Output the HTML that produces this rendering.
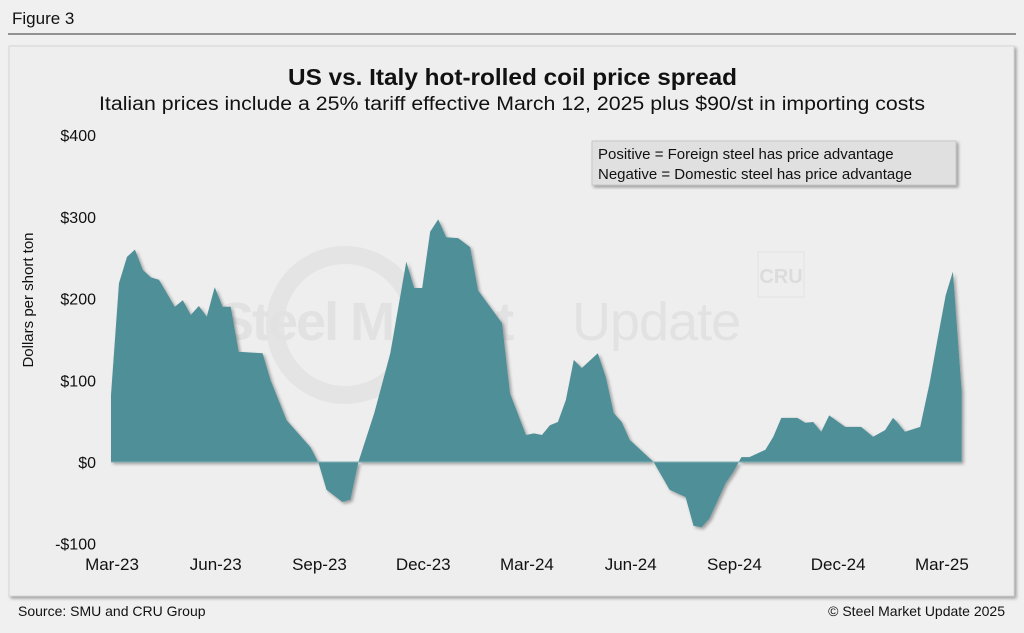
<!DOCTYPE html>
<html><head><meta charset="utf-8"><style>
body{margin:0;background:#f0f0f0;font-family:"Liberation Sans",sans-serif;}
#wrap{position:relative;width:1024px;height:633px;overflow:hidden;background:#f0f0f0;}
</style></head><body>
<div id="wrap">
<svg width="1024" height="633">
<defs><filter id="sh" x="-5%" y="-5%" width="110%" height="115%"><feDropShadow dx="2" dy="2" stdDeviation="1.5" flood-color="#000" flood-opacity="0.35"/></filter></defs>
<text x="12" y="24" font-size="17" fill="#111">Figure 3</text>
<line x1="8" y1="34" x2="1016" y2="34" stroke="#333" stroke-width="1"/>
<rect x="9" y="46" width="1005" height="550" fill="#eeeeee" stroke="#d6d6d6" filter="url(#sh)"/>
<text x="288" y="85" font-size="23" font-weight="bold" fill="#111" textLength="449" lengthAdjust="spacingAndGlyphs">US vs. Italy hot-rolled coil price spread</text>
<text x="99" y="110" font-size="19" fill="#111" textLength="826" lengthAdjust="spacingAndGlyphs">Italian prices include a 25% tariff effective March 12, 2025 plus $90/st in importing costs</text>
<g>
<circle cx="345" cy="325" r="70" fill="none" stroke="#e4e4e4" stroke-width="18"/>
<text x="218" y="340" font-size="54" font-weight="bold" fill="#e2e2e2" letter-spacing="-2">Steel Market</text>
<text x="572" y="340" font-size="54" fill="#e2e2e2" letter-spacing="-1">Update</text>
<rect x="758" y="252" width="46" height="45" fill="none" stroke="#e2e2e2"/>
<text x="781" y="283" font-size="20" font-weight="bold" fill="#dcdcdc" text-anchor="middle">CRU</text>
</g>
<text transform="translate(33,300) rotate(-90)" font-size="15" text-anchor="middle" fill="#111">Dollars per short ton</text>
<g id="yt"></g><g id="xt"></g><g id="plot"></g>
<g>
<rect x="592" y="141" width="364" height="44" fill="#e0e0e0" stroke="#c8c8c8" filter="url(#sh)"/>
<text x="598" y="159" font-size="15" fill="#111">Positive = Foreign steel has price advantage</text>
<text x="598" y="179" font-size="15" fill="#111">Negative = Domestic steel has price advantage</text>
</g>
<text x="18" y="616" font-size="14" fill="#111">Source: SMU and CRU Group</text>
<text x="1005" y="616" font-size="14" fill="#111" text-anchor="end">© Steel Market Update 2025</text>
</svg></div>
<script>
const weeks=[0,1,2,3,4,5,6,8,9,10,11,12,13,14,15,16,19,20,22,25,26,27,29,30,31,33,35,37,38,39,40,41,42,43.5,45,46,49,50,52,53,54,55,56,57,58,59,61,62,63,64,65,66,68,70,72,73,74,75,77,78,79,80,82,83,84,86,87,88,89,90,92,94,95.5,97,98,98.5,99.5,101.4,102.6,103.5,104.6,105.5,106.6];
const values=[82,219,251,260,235,226,223,190,198,180,191,178,214,190,190,135,133,100,51,18,-1,-34,-49,-46,0,60,133,245,213,213,282,297,275,274,263,210,170,84,33,35,33,45,49,76,125,115,133,104,60,49,27,18,0,-34,-43,-78,-80,-69,-26,-12,6,6,15,31,54,54,48,49,37,57,43,43,31,39,54,49,37,43,97,146,204,233,86,82];
const yTicks=[400,300,200,100,0,-100];
const yLabels=["$400","$300","$200","$100","$0","-$100"];
const xTickWeeks=[0,13,26,39,52,65,78,91,104];
const xLabels=["Mar-23","Jun-23","Sep-23","Dec-23","Mar-24","Jun-24","Sep-24","Dec-24","Mar-25"];
const X=w=>111+w*7.98, Y=v=>462-v*0.817;
const NS="http://www.w3.org/2000/svg";
const yt=document.getElementById('yt'),xt=document.getElementById('xt'),plot=document.getElementById('plot');
yTicks.forEach((v,i)=>{const t=document.createElementNS(NS,'text');


t.setAttribute('x',96);t.setAttribute('y',Y(v)+6);t.setAttribute('text-anchor','end');t.setAttribute('font-size','16');t.setAttribute('fill','#111');t.textContent=yLabels[i];yt.appendChild(t);});
xTickWeeks.forEach((w,i)=>{const t=document.createElementNS(NS,'text');


t.setAttribute('x',X(w)+1);t.setAttribute('y',570);t.setAttribute('text-anchor','middle');t.setAttribute('font-size','17');t.setAttribute('fill','#111');t.textContent=xLabels[i];xt.appendChild(t);});
let d='M'+X(weeks[0])+','+Y(0);
weeks.forEach((w,i)=>{d+=' L'+X(w).toFixed(1)+','+Y(values[i]).toFixed(1);});
d+=' L'+X(weeks[weeks.length-1])+','+Y(0)+' Z';
const p=document.createElementNS(NS,'path');


p.setAttribute('d',d);p.setAttribute('fill','#508f98');p.setAttribute('filter','url(#sh)');plot.appendChild(p);
const z=document.createElementNS(NS,'line');


z.setAttribute('x1',X(0));z.setAttribute('x2',X(weeks[weeks.length-1]));z.setAttribute('y1',Y(0));z.setAttribute('y2',Y(0));z.setAttribute('stroke','#7fb0b6');z.setAttribute('stroke-width','1');plot.appendChild(z);
</script>
</body></html>
